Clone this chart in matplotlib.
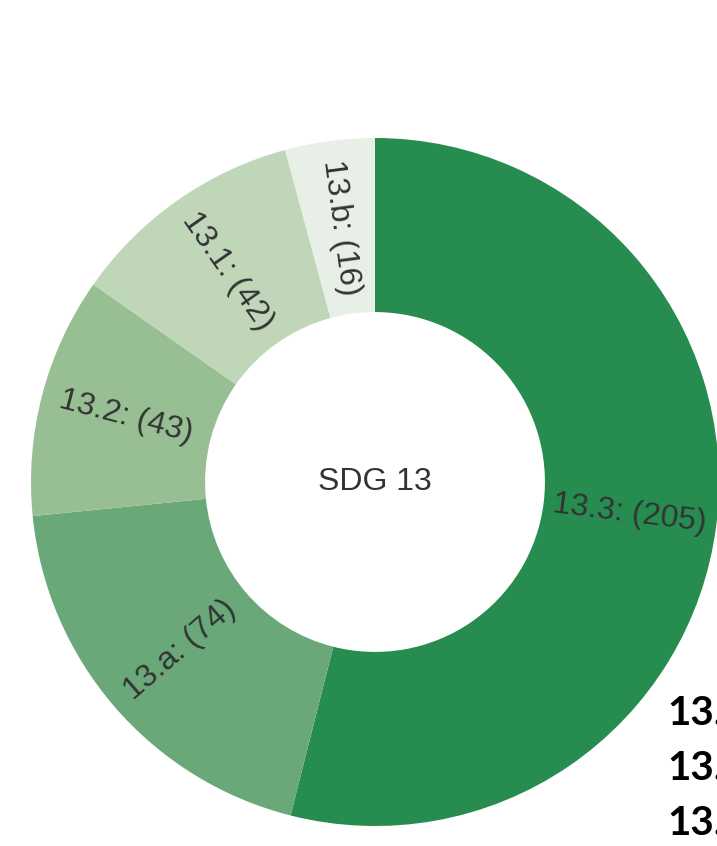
import numpy as np
import matplotlib.pyplot as plt

targets = ["13.3", "13.a", "13.2", "13.1", "13.b"]
counts = [205, 74, 43, 42, 16]
colors = ["#268c50", "#6aa87a", "#98bf94", "#c0d6b9", "#e8efe6"]
side_labels = ["13.", "13.", "13."]

fig = plt.figure(figsize=(7.17, 8.46), dpi=100)
ax = fig.add_axes([31/717, 20/846, 688/717, 688/846])

inner = 0.494
wedges, _ = ax.pie(counts, colors=colors, startangle=90, counterclock=False,
                   radius=1.0, wedgeprops=dict(width=1-inner, linewidth=0))

r_mid = (1 + inner) / 2
for w, t, c in zip(wedges, targets, counts):
    ang = (w.theta1 + w.theta2) / 2
    a = np.deg2rad(ang)
    rot = ang
    # keep text readable
    a_norm = (ang + 180) % 360 - 180
    if a_norm > 90 or a_norm < -90:
        rot = ang + 180
    ax.text(r_mid*np.cos(a), r_mid*np.sin(a), f"{t}: ({c})", rotation=rot,
            rotation_mode="anchor", ha="center", va="center",
            fontsize=23, color="#333333", family="Liberation Sans")

ax.text(0, 0, "SDG 13", ha="center", va="center", fontsize=23,
        color="#333333", family="Liberation Sans")
ax.set_xlim(-1, 1)
ax.set_ylim(-1, 1)
ax.set_aspect("equal")
ax.axis("off")

# labels of a neighbouring panel, cut off at the right edge
for i, s in enumerate(side_labels):
    fig.text(667/717, 1 - (713 + 55*i)/846, s, ha="left", va="center",
             fontsize=29, fontweight="bold", family="Lato", color="black")

fig.savefig("out.png", dpi=100)
